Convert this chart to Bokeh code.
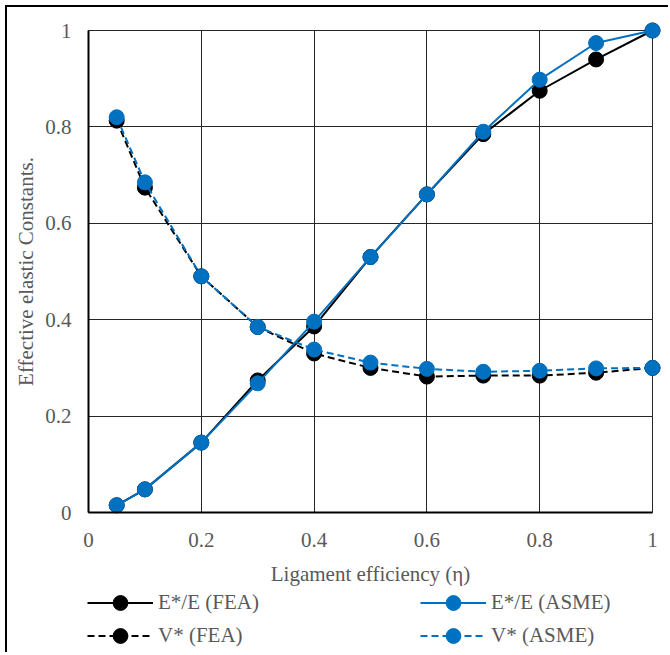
import math
from bokeh.plotting import figure
from bokeh.models import Range1d, FixedTicker, CustomJSTickFormatter, Legend, LegendItem, Label
from bokeh.embed import file_html
from bokeh.resources import INLINE

eta = [0.05, 0.1, 0.2, 0.3, 0.4, 0.5, 0.6, 0.7, 0.8, 0.9, 1.0]
e_fea = [0.015, 0.048, 0.145, 0.274, 0.386, 0.53, 0.66, 0.785, 0.875, 0.94, 1.0]
e_asme = [0.015, 0.048, 0.145, 0.268, 0.396, 0.53, 0.66, 0.79, 0.898, 0.974, 1.0]
v_fea = [0.813, 0.674, 0.49, 0.385, 0.33, 0.30, 0.282, 0.284, 0.284, 0.29, 0.30]
v_asme = [0.82, 0.685, 0.49, 0.385, 0.338, 0.311, 0.298, 0.292, 0.294, 0.299, 0.30]
ticks = [0, 0.2, 0.4, 0.6, 0.8, 1.0]
x_title = "Ligament efficiency (η)"
y_title = "Effective elastic Constants."

BLUE = "#0070C0"
FONT = "Liberation Serif"
GRAY = "#595959"
FS = "21px"

# Layout (pixels): the frame fills the whole figure; axes are pinned at 0.
W, H = 663, 647
PAD_L, PAD_R, PAD_T, PAD_B = 81, 18, 23, 142   # space around the 0..1 data box
PXX = W - PAD_L - PAD_R
PXY = H - PAD_T - PAD_B
x_range = Range1d(-PAD_L / PXX, 1 + PAD_R / PXX)
y_range = Range1d(-PAD_B / PXY, 1 + PAD_T / PXY)

p = figure(width=W, height=H, output_backend="svg", toolbar_location=None,
           x_range=x_range, y_range=y_range, min_border=0,
           styles={"margin-left": "7px", "margin-top": "7px",
                   "box-shadow": "-2px -2px 0 0 black"})
p.outline_line_color = None
p.background_fill_color = "white"
p.border_fill_color = "white"

fmt = CustomJSTickFormatter(code="return tick.toString();")
for ax in (p.xaxis[0], p.yaxis[0]):
    ax.ticker = FixedTicker(ticks=ticks)
    ax.formatter = fmt
    ax.bounds = (0, 1)
    ax.fixed_location = 0
    ax.axis_label = None
    ax.major_tick_line_color = None
    ax.minor_tick_line_color = None
    ax.axis_line_color = "black"
    ax.axis_line_width = 2
    ax.major_label_text_font = FONT
    ax.major_label_text_font_size = FS
    ax.major_label_text_color = GRAY

p.xaxis.major_label_standoff = 14
p.yaxis.major_tick_out = 0
p.yaxis.major_tick_in = 0
p.yaxis.major_label_standoff = 17

for g in (p.xgrid[0], p.ygrid[0]):
    g.ticker = FixedTicker(ticks=ticks)
    g.bounds = (0, 1)
    g.cross_bounds = (0, 1)
    g.grid_line_color = "#262626"
    g.grid_line_width = 1

p.add_layout(Label(x=0.5, y=81, y_units="screen", text=x_title,
                   text_align="center", text_baseline="middle",
                   text_font=FONT, text_font_size=FS, text_color=GRAY))
p.add_layout(Label(x=18, x_units="screen", y=0.5, text=y_title, angle=math.pi / 2,
                   text_align="center", text_baseline="middle",
                   text_font=FONT, text_font_size=FS, text_color=GRAY))

l1 = p.line(eta, e_fea, line_color="black", line_width=2)
m1 = p.scatter(eta, e_fea, size=15, fill_color="black", line_color="black")
l3 = p.line(eta, v_fea, line_color="black", line_width=2, line_dash="7 4")
m3 = p.scatter(eta, v_fea, size=15, fill_color="black", line_color="black")
l2 = p.line(eta, e_asme, line_color=BLUE, line_width=2)
m2 = p.scatter(eta, e_asme, size=15, fill_color=BLUE, line_color=BLUE)
l4 = p.line(eta, v_asme, line_color=BLUE, line_width=2, line_dash="7 4")
m4 = p.scatter(eta, v_asme, size=15, fill_color=BLUE, line_color=BLUE)

def add_row(items, yloc):
    lg = Legend(items=items, location=(PAD_L - 1, yloc), orientation="horizontal",
                padding=0, margin=0, spacing=137, glyph_width=66, glyph_height=37,
                label_width=125, label_standoff=5,
                border_line_color=None, background_fill_alpha=0,
                label_text_font=FONT, label_text_font_size=FS, label_text_color=GRAY)
    p.add_layout(lg, "center")

add_row([LegendItem(label="E*/E (FEA)", renderers=[l1, m1]),
         LegendItem(label="E*/E (ASME)", renderers=[l2, m2])], 33)
add_row([LegendItem(label="V* (FEA)", renderers=[l3, m3]),
         LegendItem(label="V* (ASME)", renderers=[l4, m4])], 0)

open("out.html", "w").write(file_html(p, INLINE))
